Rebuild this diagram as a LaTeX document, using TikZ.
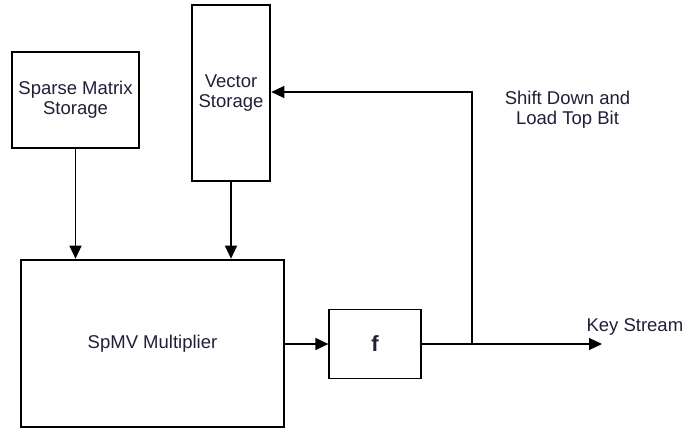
\documentclass[tikz,border=0pt]{standalone}
\usepackage{fontspec}
\setmainfont{Liberation Sans}
\usetikzlibrary{arrows.meta, calc, positioning}
\definecolor{inkblue}{rgb}{0.12, 0.12, 0.22}

\begin{document}
\begin{tikzpicture}[x=1pt, y=-1pt, >={Triangle[length=13pt, width=12pt]},
    font=\fontsize{18.5}{20}\selectfont]
        \tikzstyle{block}=[draw, line width=2.6pt, align=center, inner sep=0pt, text=inkblue]
        \tikzstyle{thinblock}=[draw, line width=1.2pt, align=center, inner sep=0pt, text=inkblue]
        \tikzstyle{wire}=[line width=1.2pt]
        \useasboundingbox (0,0) rectangle (685,432);

        % Storage blocks
        \node (sparse)[block, minimum width=127pt, minimum height=96pt] at (75.5,100) {Sparse Matrix\\Storage};
        \node (vector)[block, minimum width=78pt, minimum height=176pt] at (231,93) {Vector\\Storage};

        % Multiplier and f
        \node (spmv)[block, minimum width=263pt, minimum height=167pt] at (152.5,343.5) {SpMV Multiplier};
        \node (f)[thinblock, minimum width=92pt, minimum height=69pt, font=\fontsize{22}{24}\selectfont\bfseries] at (375,344) {f};

        % Output and feedback
        \coordinate (tap) at (472,344);
        \coordinate (out) at (602,344);
        \node (key)[anchor=west, text=inkblue] at (583,327) {Key Stream};
        \node (shift)[align=center, text=inkblue] at (567.5,110) {Shift Down and\\Load Top Bit};

        % Arrows
        \draw[wire, ->] (sparse.south) -- (sparse.south |- spmv.north);
        \draw[wire, ->] (vector.south) -- (vector.south |- spmv.north);
        \draw[wire, ->] (spmv.east |- f.west) -- (f.west);
        \draw[wire, ->] (f.east) -- (out);
        \draw[wire, ->] (tap) |- ($(vector.east)+(0,-1)$);
    \end{tikzpicture}
\end{document}
